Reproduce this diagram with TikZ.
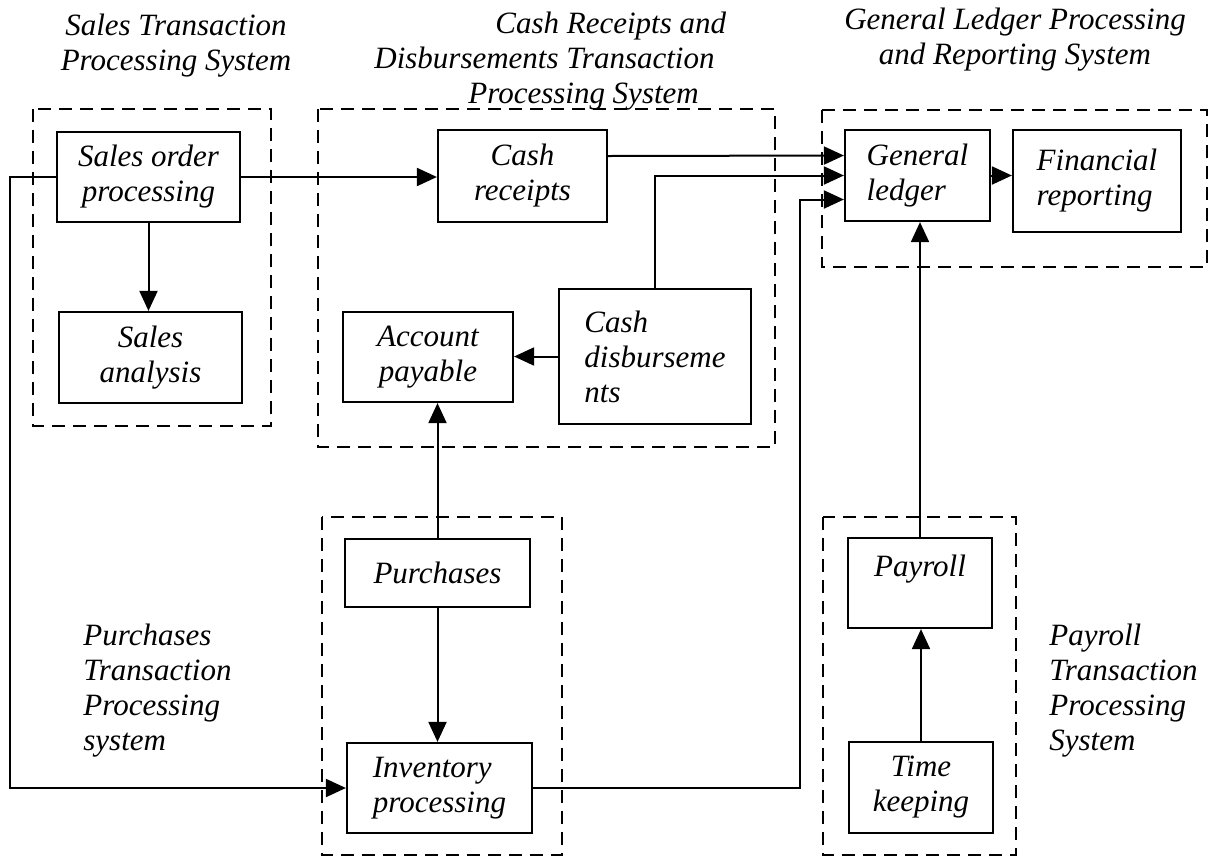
\documentclass[tikz,border=0pt]{standalone}
\usepackage{fontspec}
\setmainfont{Liberation Serif}
\usetikzlibrary{arrows.meta}
\newcommand{\boxfont}{\fontsize{15.5pt}{17.5pt}\selectfont\itshape}
\tikzset{
  proc/.style={draw, line width=1.1pt, inner sep=0pt, align=center, font=\boxfont},
  frame/.style={line width=1.3pt, dash pattern=on 6.5pt off 4pt},
  conn/.style={line width=1pt, -{Triangle[length=10pt,width=9pt]}},
  caption/.style={inner sep=0pt, font=\boxfont}
}
\begin{document}
\begin{tikzpicture}[x=0.5pt,y=0.5pt,yscale=-1,xscale=1]
\useasboundingbox (0,0) rectangle (1211,858);

%Shape: Dashed Rectangles
\draw [frame] (33,109) rectangle (271,426);
\draw [frame] (318,109) rectangle (775,447);
\draw [frame] (822,110) rectangle (1207,267);
\draw [frame] (322,517) rectangle (562,855);
\draw [frame] (823,517) rectangle (1016,855);

%Shape: Rectangle
\node [proc, minimum width=91.5pt, minimum height=45pt] (sop) at (148.5,177) {Sales order\\processing};
\node [proc, minimum width=91.5pt, minimum height=45.5pt] (sa) at (150.5,357.5) {Sales\\analysis};
\node [proc, minimum width=84.5pt, minimum height=46pt] (cr) at (522.5,176) {Cash\\receipts};
\node [proc, minimum width=85pt, minimum height=45pt] (ap) at (428,357) {Account\\payable};
\node [proc, align=left, minimum width=96pt, minimum height=67.5pt] (cd) at (655,356.5) {Cash\\disburseme\\nts};
\node [proc, align=left, minimum width=72.5pt, minimum height=45.5pt] (gl) at (917.5,175.5) {General\\ledger};
\node [proc, align=left, minimum width=84pt, minimum height=51pt] (fr) at (1097,181) {Financial\\reporting};
\node [proc, minimum width=92.5pt, minimum height=34pt] (pu) at (437.5,573) {Purchases};
\node [proc, align=left, minimum width=92.5pt, minimum height=45pt] (inv) at (439.5,788) {Inventory\\processing};
\node [proc, minimum width=72pt, minimum height=45pt] (pay) at (920,583) {Payroll\\\mbox{}};
\node [proc, minimum width=72pt, minimum height=45.5pt] (tk) at (921,787.5) {Time\\keeping};

\coordinate (westrun) at (10,0);
\coordinate (riser) at (800,0);

%Straight Lines
\draw [conn] (sop.east) -- (sop.east -| cr.west);
\draw [conn] (sop.west) -- (sop.west -| westrun) |- (inv.west);
\draw [conn] (sop.south) -- (sop.south |- sa.north);
\draw [conn] ([yshift=-10pt]cr.east) -- ([yshift=-10pt]gl.west);
\draw [conn] (cd.north) |- (gl.west);
\draw [conn] (cd.west) -- (cd.west -| ap.east);
\draw [conn] (pu.north) -- (pu.north |- ap.south);
\draw [conn] (pu.south) -- (pu.south |- inv.north);
\draw [conn] (inv.east) -- (inv.east -| riser) |- ([yshift=12pt]gl.west);
\draw [conn] (tk.north) -- (tk.north |- pay.south);
\draw [conn] (pay.north) -- (pay.north |- gl.south);
\draw [conn] (gl.east) -- (gl.east -| fr.west);

% Text Node
\node [caption, align=center, anchor=north] (salesttl) at (176,14) {Sales Transaction\\Processing System};
% Text Node
\node [caption, align=left, anchor=north west] (cashttl) at (374,12) {\hspace*{60.5pt}Cash Receipts and\\Disbursements Transaction\\\hspace*{47pt}Processing System};
% Text Node
\node [caption, align=center, anchor=north] (glttl) at (1015,8) {General Ledger Processing\\and Reporting System};
% Text Node
\node [caption, align=left, anchor=north west] (purttl) at (83,624) {Purchases\\Transaction\\Processing\\system};
% Text Node
\node [caption, align=left, anchor=north west] (payttl) at (1049,624) {Payroll\\Transaction\\Processing\\System};

\end{tikzpicture}
\end{document}
